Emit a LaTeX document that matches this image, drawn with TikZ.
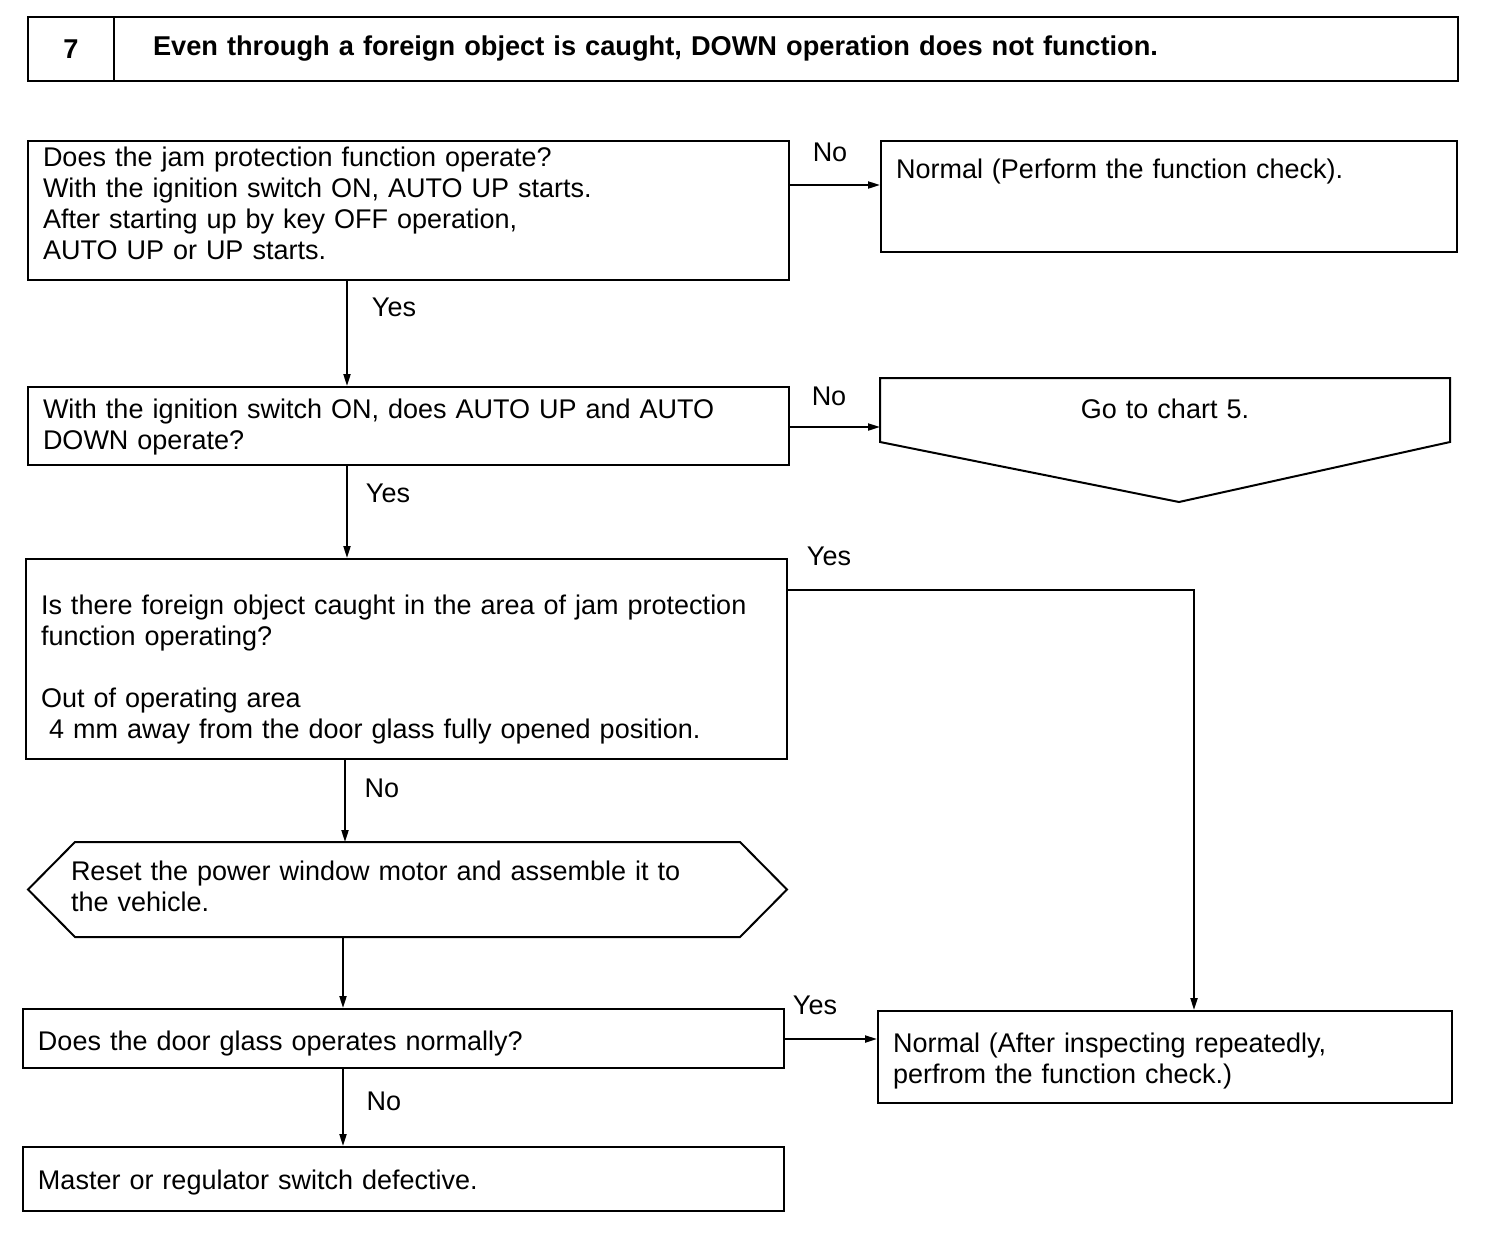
\documentclass[tikz,border=0pt]{standalone}
\usepackage{fontspec}
\setmainfont{Liberation Sans}
\usetikzlibrary{arrows.meta}
\hyphenpenalty=10000

\tikzset{
  box/.style={draw, line width=1pt, anchor=north west, align=left,
    inner xsep=7.5pt, inner ysep=0pt, font=\fontsize{13.5}{15.5}\selectfont},
  flow/.style={line width=1pt, -{Triangle[length=6pt,width=3.5pt]}},
  answer/.style={font=\fontsize{13.5}{15.5}\selectfont, inner sep=0pt},
}

\begin{document}
\begin{tikzpicture}[x=0.5pt, y=-0.5pt]
    \useasboundingbox (0,0) rectangle (1504,1232);

    % HEADER
    \node[box, align=center, text width=28pt, minimum height=32pt,
      font=\fontsize{13.6}{15.5}\selectfont\bfseries] (num) at (27,16) {7};
    \node[box, text width=633pt, inner xsep=19.5pt, minimum height=32pt,
      font=\fontsize{13.6}{15.5}\selectfont\bfseries] (title) at (113,16)
      {Even through a foreign object is caught, DOWN operation does not function.};

    % QUESTIONS (left column)
    \node[box, text width=365.5pt, text height=12.5pt, text depth=57pt] (jam) at (27,140)
      {Does the jam protection function operate?\\
       With the ignition switch ON, AUTO UP starts.\\
       After starting up by key OFF operation,\\
       AUTO UP or UP starts.};
    \node[box, text width=365.5pt, text height=15.5pt, text depth=23.5pt] (auto) at (27,386)
      {With the ignition switch ON, does AUTO UP and AUTO\\
       DOWN operate?};
    \node[box, text width=365.5pt, text height=27.5pt, text depth=72.5pt] (caught) at (25,558)
      {Is there foreign object caught in the area of jam protection\\
       function operating?\\[15.5pt]
       Out of operating area\\
       \hspace*{0.3em}4 mm away from the door glass fully opened position.};

    % RESET (hexagon)
    \node[box, draw=none, inner xsep=0pt, text width=334pt, text height=18.5pt, text depth=28pt]
      (reset) at (70,842)
      {Reset the power window motor and assemble it to\\
       the vehicle.};
    \draw[line width=1pt] ([shift={(5,0)}]reset.north west) -- (reset.north east)
      -- ([shift={(47,0)}]reset.east) -- (reset.south east)
      -- ([shift={(5,0)}]reset.south west) -- ([shift={(-42,0)}]reset.west) -- cycle;

    \node[box, text width=365.5pt, text height=20.5pt, text depth=9pt] (glass) at (22,1008)
      {Does the door glass operates normally?};
    \node[box, text width=365.5pt, text height=21pt, text depth=11pt] (defect) at (22,1146)
      {Master or regulator switch defective.};

    % RESULTS (right column)
    \node[box, text width=273pt, text height=18.5pt, text depth=37pt] (normA) at (880,140)
      {Normal (Perform the function check).};
    \node[box, draw=none, align=center, text width=269pt, text height=19.5pt, text depth=11.5pt]
      (chart) at (880,378) {Go to chart 5.};
    \draw[line width=1pt] (chart.south west) -- (chart.north west)
      -- (chart.north east) -- (chart.south east)
      -- ([shift={(14,60)}]chart.south) -- cycle;
    \node[box, text width=272pt, text height=20.5pt, text depth=25.5pt] (normB) at (877,1010)
      {Normal (After inspecting repeatedly,\\
       perfrom the function check.)};

    % CONNECTORS
    \draw[flow] (jam.east |- 0,185) -- (normA.west |- 0,185);
    \draw[flow] (jam.south -| 347,0) -- (auto.north -| 347,0);
    \draw[flow] (auto.east |- 0,427) -- (chart.west |- 0,427);
    \draw[flow] (auto.south -| 347,0) -- (caught.north -| 347,0);
    \draw[flow] (caught.east |- 0,590) -| (normB.north -| 1194,0);
    \draw[flow] (caught.south -| 345,0) -- (reset.north -| 345,0);
    \draw[flow] (reset.south -| 343,0) -- (glass.north -| 343,0);
    \draw[flow] (glass.east |- 0,1039) -- (normB.west |- 0,1039);
    \draw[flow] (glass.south -| 343,0) -- (defect.north -| 343,0);

    % ANSWERS
    \node[answer] (noA)  at (830,152)  {No};
    \node[answer] (yesA) at (394,307)  {Yes};
    \node[answer] (noB)  at (829,396)  {No};
    \node[answer] (yesB) at (388,493)  {Yes};
    \node[answer] (yesC) at (829,556)  {Yes};
    \node[answer] (noC)  at (382,788)  {No};
    \node[answer] (yesD) at (815,1005) {Yes};
    \node[answer] (noD)  at (384,1101) {No};
\end{tikzpicture}
\end{document}
